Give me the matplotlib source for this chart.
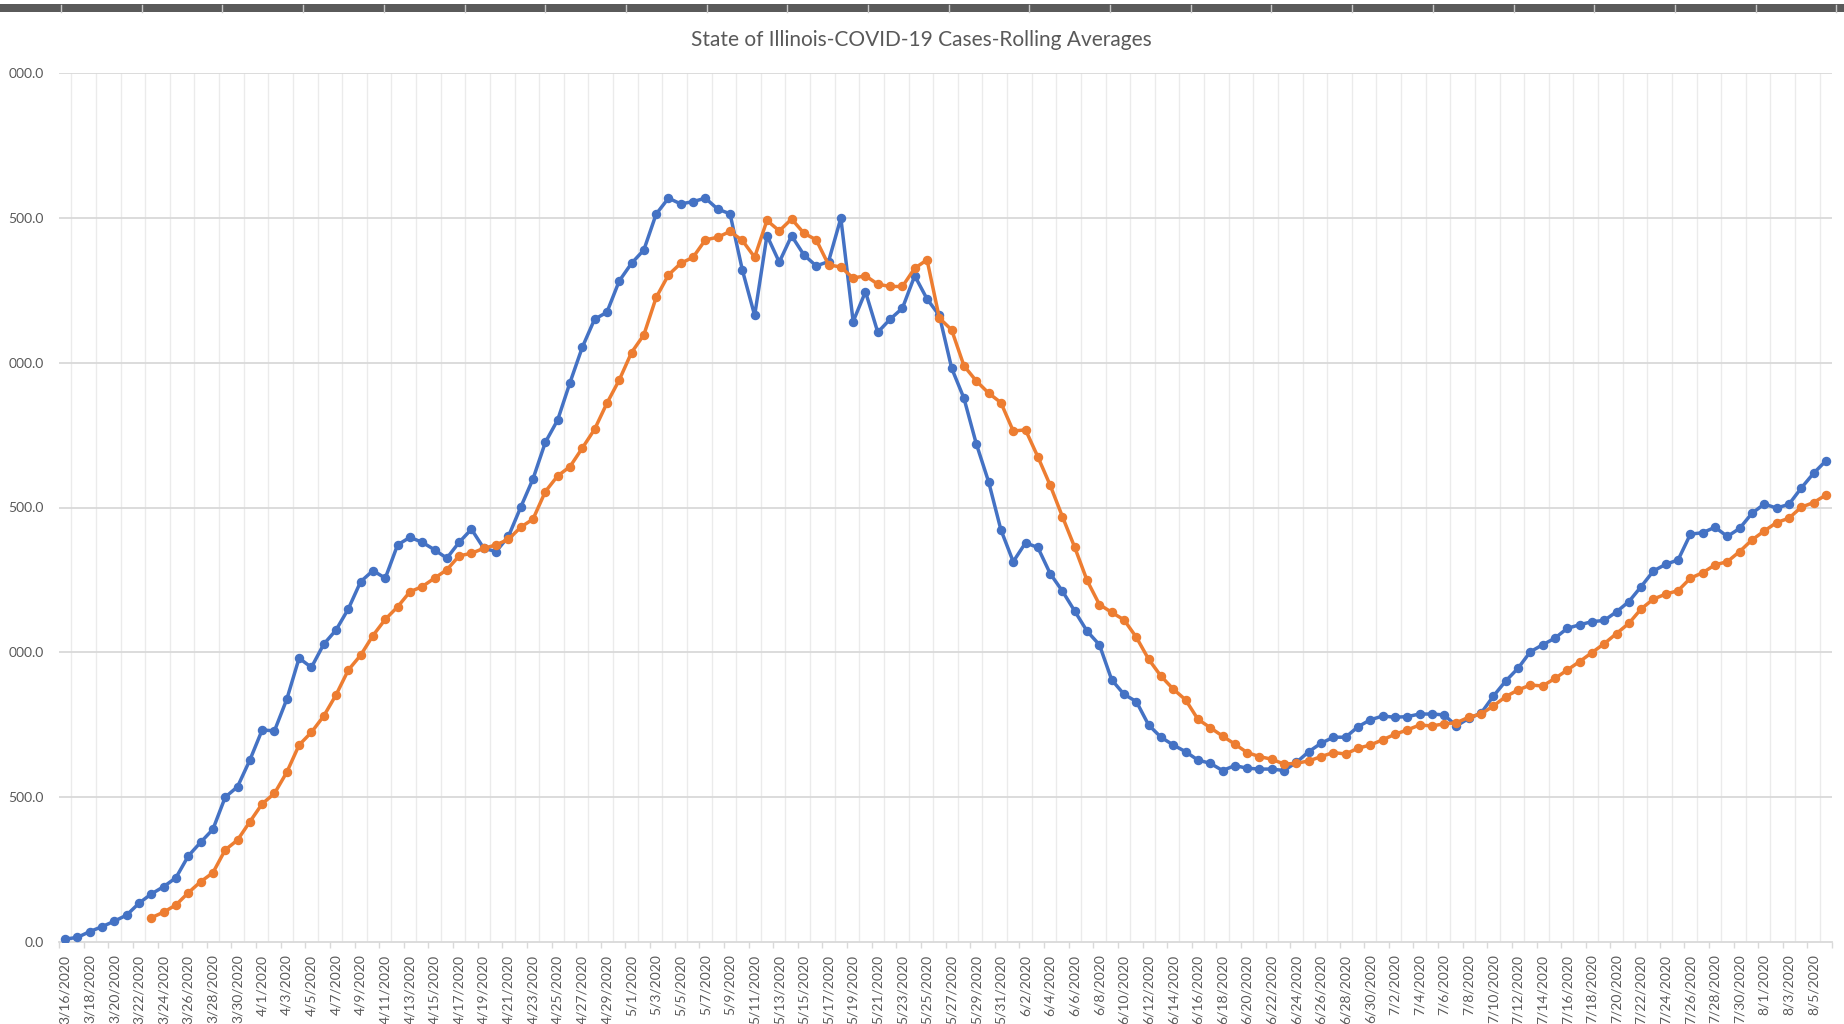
import numpy as np
import pandas as pd
import matplotlib
matplotlib.use("Agg")
import matplotlib.pyplot as plt
from matplotlib.patches import Rectangle
from matplotlib.lines import Line2D

# categorias (um ponto por dia)
dates = pd.date_range("2020-03-16", "2020-08-06")
date_labels = [f"{d.month}/{d.day}/{d.year}" for d in dates]

# serie azul (media curta)
blue = [10, 16, 36, 53, 72, 93, 134, 166, 191, 222,
        297, 344, 389, 500, 536, 628, 732, 729, 838, 980,
        948, 1028, 1077, 1150, 1244, 1282, 1256, 1371, 1397, 1380,
        1354, 1325, 1380, 1425, 1359, 1348, 1400, 1501, 1599, 1725,
        1802, 1931, 2053, 2150, 2174, 2282, 2343, 2389, 2513, 2568,
        2548, 2556, 2568, 2530, 2514, 2320, 2163, 2439, 2347, 2438,
        2372, 2334, 2349, 2499, 2142, 2245, 2105, 2150, 2188, 2300,
        2220, 2163, 1981, 1877, 1720, 1589, 1423, 1313, 1378, 1362,
        1272, 1211, 1142, 1073, 1026, 905, 855, 830, 749, 707,
        680, 657, 628, 617, 592, 609, 600, 597, 597, 592,
        620, 657, 686, 707, 707, 743, 767, 780, 776, 778,
        787, 787, 784, 746, 772, 790, 849, 901, 945, 1002,
        1026, 1049, 1083, 1095, 1106, 1110, 1140, 1175, 1227, 1281,
        1304, 1319, 1408, 1413, 1432, 1400, 1428, 1480, 1512, 1498,
        1511, 1567, 1618, 1661]

# serie laranja (media longa, comeca em 3/23)
orange = [np.nan] * 7 + [
        84, 103, 128,
        170, 208, 239, 318, 352, 415, 477, 513, 586, 680,
        724, 780, 853, 939, 990, 1058, 1114, 1157, 1209, 1227,
        1256, 1285, 1333, 1342, 1359, 1371, 1390, 1432, 1460, 1555,
        1609, 1641, 1705, 1770, 1860, 1940, 2035, 2096, 2225, 2303,
        2343, 2364, 2424, 2433, 2453, 2422, 2364, 2491, 2455, 2496,
        2447, 2424, 2338, 2330, 2292, 2300, 2271, 2263, 2263, 2326,
        2355, 2154, 2113, 1989, 1937, 1895, 1862, 1764, 1768, 1675,
        1577, 1468, 1362, 1248, 1165, 1138, 1112, 1052, 976, 918,
        873, 836, 769, 740, 711, 683, 654, 640, 631, 614,
        617, 625, 640, 654, 649, 669, 680, 698, 717, 732,
        749, 746, 753, 757, 776, 787, 815, 847, 870, 887,
        884, 910, 939, 968, 999, 1030, 1065, 1100, 1150, 1184,
        1201, 1213, 1256, 1275, 1302, 1313, 1348, 1388, 1419, 1448,
        1463, 1501, 1517, 1543]

y_ticks = [0, 500, 1000, 1500, 2000, 2500, 3000]
y_labels = ["0.0", "500.0", "000.0", "500.0", "000.0", "500.0", "000.0"]
title = "State of Illinois-COVID-19 Cases-Rolling Averages"

W, H = 1844, 1024
fig = plt.figure(figsize=(W / 100, H / 100), dpi=100)
ax = fig.add_axes([59 / W, 82 / H, 1773 / W, 869 / H])

x = np.arange(len(dates))
ax.plot(x, blue, color="#4472C4", lw=2.5, marker="o", ms=5.8, zorder=3)
ax.plot(x, orange, color="#ED7D31", lw=2.5, marker="o", ms=5.8, zorder=3)

ax.set_xlim(-0.5, len(dates) - 0.5)
ax.set_ylim(0, 3000)

# grades
for b in np.arange(0.5, len(dates), 2):
    ax.axvline(b, color="#ebebeb", lw=1, zorder=0)
for v in y_ticks[1:]:
    ax.axhline(v, color="#d9d9d9", lw=1.3, zorder=1)

for s in ["top", "right", "left"]:
    ax.spines[s].set_visible(False)
ax.spines["bottom"].set_color("#d9d9d9")
ax.spines["bottom"].set_linewidth(1.3)

ax.set_xticks(x[::2])
ax.set_xticklabels(date_labels[::2], rotation=90, fontsize=10,
                   color="#595959", family="Lato")
ax.tick_params(axis="x", which="major", length=0, pad=9)
ax.set_xticks(np.arange(-0.5, len(dates), 2), minor=True)
ax.tick_params(axis="x", which="minor", length=4, color="#d9d9d9", width=1)

ax.set_yticks(y_ticks)
ax.set_yticklabels(y_labels, fontsize=10, color="#595959", family="Lato")
ax.tick_params(axis="y", length=0, pad=11)

fig.text(921 / W, 1 - 40 / H, title, ha="center", va="center",
         fontsize=15, color="#595959", family="Lato")

# barra escura no topo (resto da captura de tela)
fig.add_artist(Rectangle((0, 1 - 12 / H), 1, 8 / H, transform=fig.transFigure,
                         color="#5a5a5a", lw=0))
for xp in np.arange(61, W, 80.7):
    fig.add_artist(Line2D([xp / W, xp / W], [1 - 12 / H, 1 - 5 / H],
                          transform=fig.transFigure, color="#c8c8c8", lw=1))

fig.savefig("out.png", dpi=100, facecolor="white")
